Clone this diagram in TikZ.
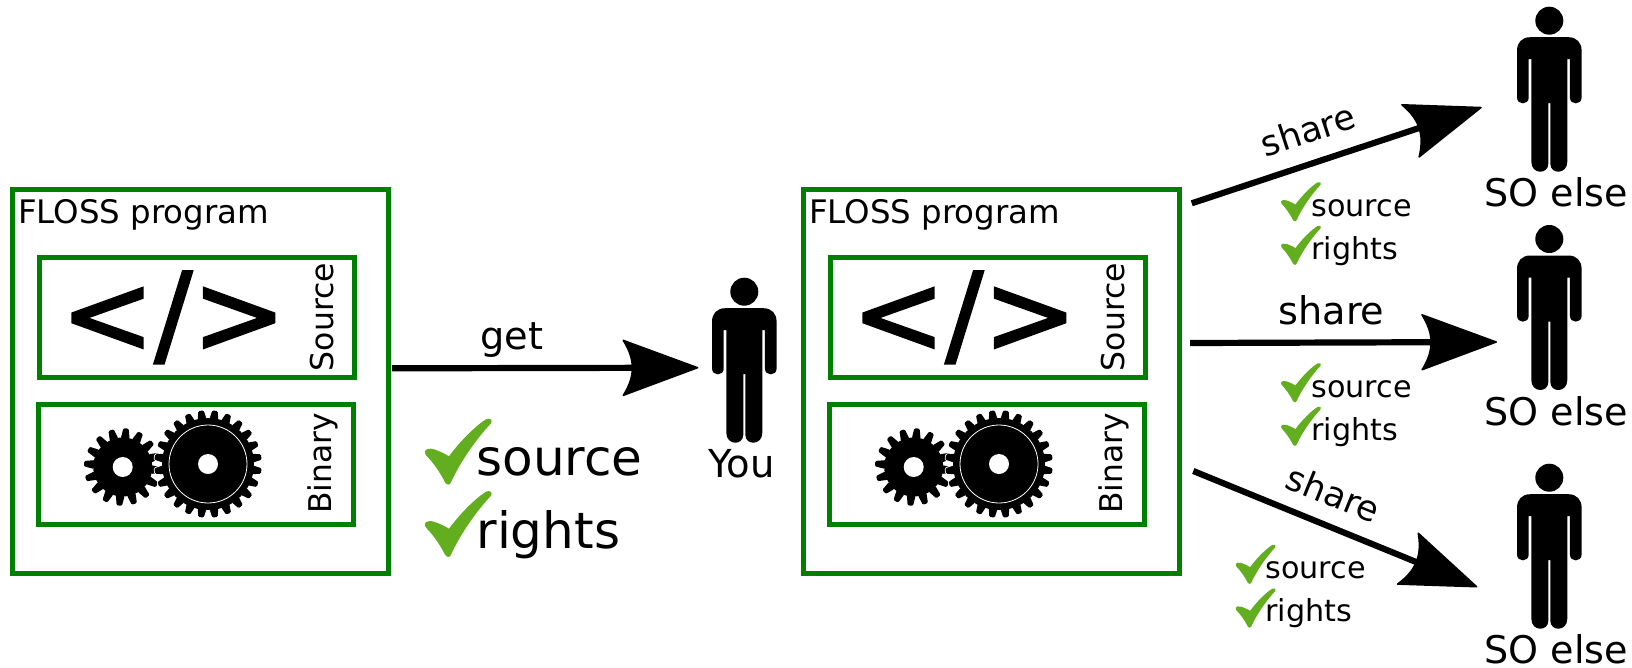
\documentclass[tikz,border=0pt]{standalone}
\usepackage{fontspec}
\setmainfont{DejaVu Sans}
\newfontfamily\codefont[FakeBold=2]{DejaVu Sans}
\usetikzlibrary{arrows.meta}
\definecolor{boxgreen}{HTML}{008000}
\definecolor{tickgreen}{HTML}{62AE1E}
\newcommand\fsz[1]{\fontsize{#1}{#1}\selectfont}
\pgfdeclarearrow{
  name=Inks,
  setup code={
    \pgfarrowssettipend{0pt}
    \pgfarrowssetlineend{-50pt}
    \pgfarrowssetvisualbackend{-76pt}
    \pgfarrowssetbackend{-76pt}
  },
  drawing code={
    \pgfsetlinewidth{1.5pt}
    \pgfsetroundjoin
    \pgfsetdash{}{0pt}
    \pgfpathmoveto{\pgfpoint{-0.7pt}{0pt}}
    \pgfpathlineto{\pgfpoint{-75pt}{27.5pt}}
    \pgfpathcurveto{\pgfpoint{-68pt}{16pt}}{\pgfpoint{-66pt}{8pt}}{\pgfpoint{-66pt}{0pt}}
    \pgfpathcurveto{\pgfpoint{-66pt}{-8pt}}{\pgfpoint{-68pt}{-16pt}}{\pgfpoint{-75pt}{-27.5pt}}
    \pgfpathclose
    \pgfusepathqfillstroke
  }
}
\tikzset{
  every node/.style={inner sep=0pt,outer sep=0pt},
  outerbox/.style={draw=boxgreen,line width=5pt,minimum width=376pt,minimum height=384pt},
  innerbox/.style={draw=boxgreen,line width=5pt,minimum width=315pt,minimum height=120pt},
  flowarrow/.style={line width=6.2pt,-{Inks}},
  txt/.style={anchor=base west,text=black},
  persondot/.style={minimum width=65pt,minimum height=165pt},
  tick/.style={fill=tickgreen}
}
% check mark, top-left of its extent at (#1,#2), scale #3
\newcommand\ticksign[3]{%
  \begin{scope}[shift={(#1,#2)},scale=#3]
    \fill[tick] (0,33) .. controls (0,31) and (5,29.5) .. (9,31)
      .. controls (15,33) and (21,36) .. (24,38)
      .. controls (35,23) and (50,8) .. (61,1)
      .. controls (65,-1) and (68,2) .. (66,5)
      .. controls (50,22) and (34,46) .. (26,64)
      .. controls (25,67) and (22,67) .. (20,64)
      .. controls (14,52) and (7,43) .. (1,37)
      .. controls (0,36) and (0,34) .. (0,33) -- cycle;
  \end{scope}}
% person: (#1) is the node name, head centre at (#2,#3)
\newcommand\person[3]{%
  \node[persondot] (#1) at (#2,#3+66) {};
  \begin{scope}[shift={(#2,#3)}]
    \fill (0,0) circle[radius=14];
    \fill (0,16.5) -- (19,16.5) .. controls (27.5,16.5) and (32.3,22) .. (32.3,30)
      -- (32.3,76.8) .. controls (32.3,84.6) and (20.6,84.6) .. (20.6,76.8)
      -- (20.6,38.5) -- (18,38.5) -- (18,141)
      .. controls (18,154) and (1,154) .. (1,143) -- (1,82.5) -- (-1,82.5) -- (-1,143)
      .. controls (-1,154) and (-18,154) .. (-18,141) -- (-18,38.5) -- (-20.6,38.5)
      -- (-20.6,76.8) .. controls (-20.6,84.6) and (-32.3,84.6) .. (-32.3,76.8)
      -- (-32.3,30) .. controls (-32.3,22) and (-27.5,16.5) .. (-19,16.5) -- cycle;
  \end{scope}}
% gear: centre (#1,#2), teeth #3, phase #4, root #5, outer #6, base half width #7 (via macro)
\newcommand\gearwheel[6]{%
  \begin{scope}[shift={(#1,#2)}]
    \pgfmathsetmacro\gstep{360/#3}
    \draw[white,line width=1.6pt] (0,0) circle[radius=#5];
    \foreach \gi in {1,...,#3}{
      \draw[white,line width=1.6pt,rotate={#4+\gi*\gstep},rounded corners=1.2pt]
        (-4.4,-#5+1) -- (-2.7,-#6) -- (2.7,-#6) -- (4.4,-#5+1) -- cycle;
    }
    \fill (0,0) circle[radius=#5];
    \foreach \gi in {1,...,#3}{
      \fill[rotate={#4+\gi*\gstep},rounded corners=1.2pt]
        (-4.4,-#5+1) -- (-2.7,-#6) -- (2.7,-#6) -- (4.4,-#5+1) -- cycle;
    }
  \end{scope}}
% the FLOSS box, shifted by #2
\newcommand\flossbox[2]{%
  \begin{scope}[shift={(#2,0)}]
    \node[outerbox] (outer#1) at (200,381) {};
    \node[innerbox] (source#1) at (196.5,317) {};
    \node[innerbox] (binary#1) at (195.5,464) {};
    \node[txt] (title#1) at (18,223.3) {\fsz{32.4}FLOSS program};
    \node[anchor=base] (code#1) at (173.3,353) {\codefont\fsz{112}</>};
    \node[txt,rotate=90] (srclabel#1) at (333.5,371) {\fsz{31.5}Source};
    \node[txt,rotate=90] (binlabel#1) at (331.5,513.5) {\fsz{31.3}Binary};
    \gearwheel{122.7}{467}{16}{-5}{29.5}{38.7}
    \fill[white] (122.7,467) circle[radius=10];
    \gearwheel{208}{464}{24}{7.5}{46}{53.7}
    \draw[white,line width=0.8pt] (208,464) circle[radius=39];
    \fill[white] (208,464) circle[radius=10];
  \end{scope}}
\begin{document}
\begin{tikzpicture}[x=1pt,y=-1pt]
  \useasboundingbox (0,0) rectangle (1632,667);
  \flossbox{A}{0}
  \flossbox{B}{791}

  \person{you}{744.3}{291.7}
  \person{elseA}{1549.3}{20.7}
  \person{elseB}{1549.3}{239}
  \person{elseC}{1549.3}{477.7}

  \node[txt] (youlabel) at (708.5,477.7) {\fsz{38.5}You};
  \node[txt] (sotxtA) at (1484.5,206.7) {\fsz{38.1}SO else};
  \node[txt] (sotxtB) at (1484.5,425) {\fsz{38.1}SO else};
  \node[txt] (sotxtC) at (1484.5,663) {\fsz{38.1}SO else};

  \coordinate (getstart) at (392,368.3);
  \coordinate (gettip) at (698.3,367.7);
  \coordinate (sharestartA) at (1191.7,203.3);
  \coordinate (sharetipA) at (1481.7,107.3);
  \coordinate (sharestartB) at (1190,343);
  \coordinate (sharetipB) at (1497,342);
  \coordinate (sharestartC) at (1193.3,471);
  \coordinate (sharetipC) at (1477.3,587);
  \draw[flowarrow] (getstart) -- (gettip);
  \draw[flowarrow] (sharestartA) -- (sharetipA);
  \draw[flowarrow] (sharestartB) -- (sharetipB);
  \draw[flowarrow] (sharestartC) -- (sharetipC);

  \node[txt] (getlabel) at (480.5,349.3) {\fsz{38.3}get};
  \node[anchor=base,rotate=18] (shareA) at (1312,142.3) {\fsz{35}share};
  \node[txt] (shareB) at (1278.5,324.6) {\fsz{38.2}share};
  \node[anchor=base,rotate=-22] (shareC) at (1328.7,505.7) {\fsz{35}share};

  \ticksign{425}{418.3}{1}
  \ticksign{425}{490.7}{1}
  \node[txt] (srcbig) at (476.5,475) {\fsz{50}source};
  \node[txt] (rightsbig) at (476.5,548.3) {\fsz{50}rights};

  \ticksign{1281}{181.7}{0.6}
  \ticksign{1281}{225.3}{0.6}
  \node[txt] (srcA) at (1311.5,216) {\fsz{30.2}source};
  \node[txt] (rightsA) at (1311.5,259) {\fsz{30.2}rights};

  \ticksign{1281}{362.7}{0.6}
  \ticksign{1281}{406.3}{0.6}
  \node[txt] (srcB) at (1311.5,397) {\fsz{30.2}source};
  \node[txt] (rightsB) at (1311.5,440) {\fsz{30.2}rights};

  \ticksign{1235.7}{544.3}{0.6}
  \ticksign{1235.7}{588}{0.6}
  \node[txt] (srcC) at (1265.5,578.3) {\fsz{30.2}source};
  \node[txt] (rightsC) at (1265.5,621) {\fsz{30.2}rights};
\end{tikzpicture}
\end{document}
